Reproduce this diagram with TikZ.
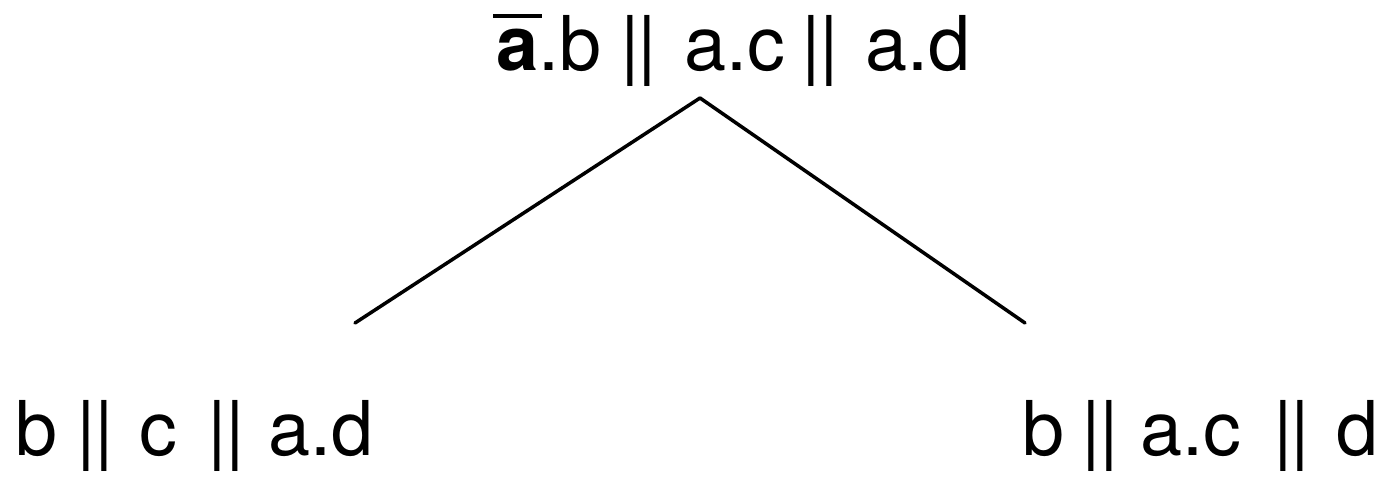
\documentclass[tikz,border=0pt]{standalone}
\usepackage{fontspec}
\setmainfont{TeX Gyre Heros}
\usetikzlibrary{positioning}
\tikzset{
  branch/.style={line width=2pt, line cap=round},
  term/.style={font=\fontsize{43}{50}\selectfont, inner sep=0pt, anchor=base west}
}
\newcommand{\parbars}[2]{\hspace{#1}|\kern-0.5mm|\hspace{#2}}
\newcommand{\coact}[1]{\makebox[0pt][l]{\kern-0.6mm\rule[10.4mm]{9.8mm}{0.9mm}}{\bfseries #1}}

\begin{document}
\begin{tikzpicture}[x=0.02cm, y=-0.02cm]
\useasboundingbox (0,0) rectangle (1385,477);
\node[term] (root) at (496,70) {\coact{a}.b\parbars{3.8mm}{5.4mm}a.c\parbars{3.4mm}{5.4mm}a.d};
\node[term] (left) at (15.6,455) {b\parbars{3.8mm}{5.1mm}c\parbars{6.2mm}{4.8mm}a.d};
\node[term] (right) at (1022.6,455) {b\parbars{3.4mm}{4.4mm}a.c\parbars{6.4mm}{5.2mm}d};

\coordinate (apex) at (700,98);
\coordinate (lfoot) at (355,323);
\coordinate (rfoot) at (1025,323);
\draw[branch] (apex) -- (lfoot);
\draw[branch] (apex) -- (rfoot);
\end{tikzpicture}
\end{document}
